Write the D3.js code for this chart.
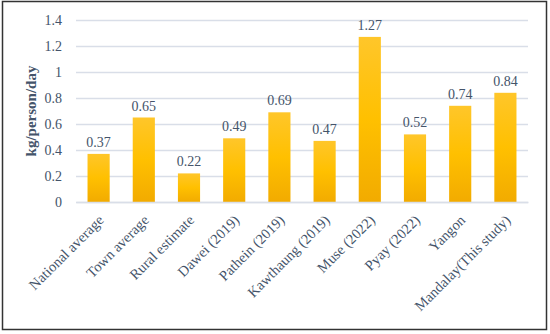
<!DOCTYPE html>
<html><head><meta charset="utf-8">
<script src="https://cdn.jsdelivr.net/npm/d3@7"></script>
<style>body{margin:0;background:#fff}svg{display:block}</style>
</head><body>
<svg id="c" width="550" height="334"></svg>
<script>
const categories = ["National average","Town average","Rural estimate","Dawei (2019)","Pathein (2019)","Kawthaung (2019)","Muse (2022)","Pyay (2022)","Yangon","Mandalay(This study)"];
const values = [0.37,0.65,0.22,0.49,0.69,0.47,1.27,0.52,0.74,0.84];
const yTicks = [0,0.2,0.4,0.6,0.8,1,1.2,1.4];
const yTitle = "kg/person/day";

const svg = d3.select("#c");
const font = "'Liberation Serif','Times New Roman',serif";
const txt = "#44546A";
svg.append("rect").attr("x",2.5).attr("y",1.5).attr("width",544).attr("height",328)
  .attr("fill","#fff").attr("stroke","#333").attr("stroke-width",1.5);

const m = {l:76, r:528, t:20, b:202};
const x = d3.scaleBand().domain(categories).range([m.l,m.r]).paddingInner(0.51).paddingOuter(0.255);
const y = d3.scaleLinear().domain([0,1.4]).range([m.b,m.t]);

const defs = svg.append("defs");
const g = defs.append("linearGradient").attr("id","bg").attr("x1",0).attr("y1",0).attr("x2",0).attr("y2",1);
g.append("stop").attr("offset","0%").attr("stop-color","#ffc62a");
g.append("stop").attr("offset","50%").attr("stop-color","#ffc000");
g.append("stop").attr("offset","100%").attr("stop-color","#f2ab00");

const yAxis = d3.axisLeft(y).tickValues(yTicks).tickSize(-(m.r-m.l)).tickPadding(14).tickFormat(d=>String(d));
const ya = svg.append("g").attr("transform",`translate(${m.l},0)`).call(yAxis);
ya.select(".domain").remove();
ya.selectAll(".tick line").attr("stroke","#d9dee8").attr("stroke-width",1.5);
ya.selectAll(".tick text").attr("fill",txt).style("font-family",font).style("font-size","14px");

svg.selectAll(".bar").data(values).join("rect").attr("class","bar")
  .attr("x",(d,i)=>x(categories[i])).attr("width",x.bandwidth())
  .attr("y",d=>y(d)).attr("height",d=>y(0)-y(d))
  .attr("fill","url(#bg)");

svg.selectAll(".lbl").data(values).join("text").attr("class","lbl")
  .attr("x",(d,i)=>x(categories[i])+x.bandwidth()/2).attr("y",d=>y(d)-7)
  .attr("text-anchor","middle").attr("fill",txt).style("font-family",font).style("font-size","14px")
  .text(d=>d.toFixed(2));

const xa = svg.append("g").attr("transform",`translate(0,${m.b})`).call(d3.axisBottom(x).tickSize(0).tickPadding(0));
xa.select(".domain").attr("stroke","#d9dee8").attr("stroke-width",1.5);
xa.selectAll(".tick text").attr("fill",txt).style("font-family",font).style("font-size","14.5px")
  .attr("text-anchor","end").attr("dy","0").attr("y",0)
  .attr("transform","translate(6,19) rotate(-45)");

svg.append("text").attr("transform",`translate(36,${(m.t+m.b)/2}) rotate(-90)`)
  .attr("text-anchor","middle").attr("fill",txt).style("font-family",font)
  .style("font-size","15px").style("font-weight","bold").text(yTitle);
</script>
</body></html>
